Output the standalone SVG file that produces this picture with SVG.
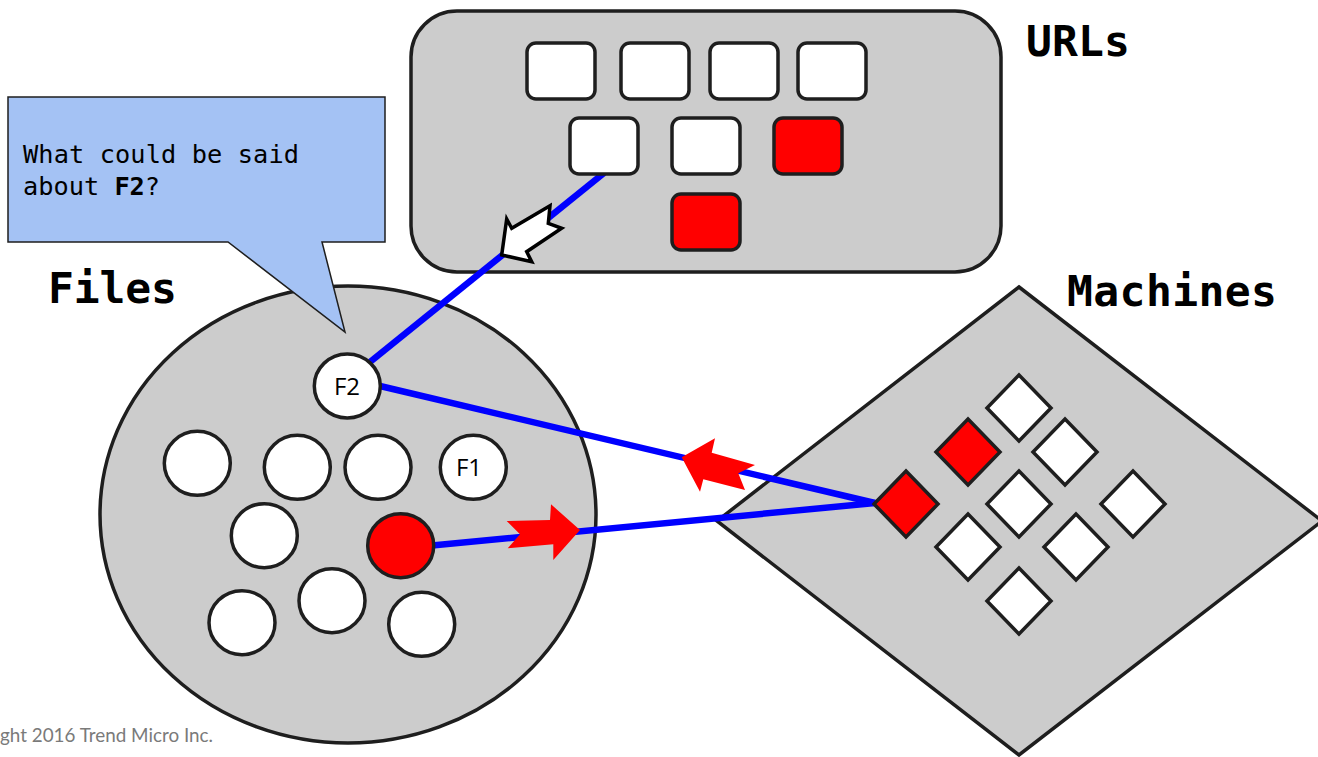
<svg xmlns="http://www.w3.org/2000/svg" width="1318" height="757" viewBox="0 0 1318 757">
<style>
.box{fill:#cccccc;stroke:#1e1e1e;stroke-width:3.5}
.w{fill:#ffffff;stroke:#1e1e1e;stroke-width:3.5}
.r{fill:#ff0000;stroke:#1e1e1e;stroke-width:3.5}
.title{font-family:"DejaVu Sans Mono","Liberation Mono",monospace;font-weight:bold;font-size:43px;fill:#000}
.lbl{font-family:"Open Sans","DejaVu Sans",sans-serif;font-size:24px;fill:#000;text-anchor:middle}
.call{font-family:"DejaVu Sans Mono","Liberation Mono",monospace;font-size:25.3px;fill:#000}
.link{stroke:#0000ff;stroke-width:6.5;fill:none}
.redarrow{fill:#ff0000;stroke:none}
</style>
<rect width="1318" height="757" fill="#ffffff"/>

<g id="files">
  <ellipse class="box" cx="348" cy="514.5" rx="248" ry="228.5"/>
  <text class="title" x="48" y="303" textLength="129">Files</text>
</g>
<g id="urls">
  <rect class="box" x="411" y="11" width="590" height="261" rx="46"/>
  <text class="title" x="1026" y="56" textLength="104">URLs</text>
</g>
<g id="machines">
  <polygon class="box" points="1019,287 1322,521 1019,755 717,521" stroke-width="3"/>
  <text class="title" x="1067" y="306" textLength="210">Machines</text>
</g>

<g id="callout">
  <polygon points="8,97 385,97 385,242 322,242 345,332 228,242 8,242" fill="#a4c2f4" stroke="#1e1e1e" stroke-width="1.5"/>
  <text class="call" x="23" y="163" textLength="276">What could be said</text>
  <text class="call" x="23" y="195">about <tspan font-weight="bold">F2</tspan>?</text>
</g>

<g id="connectors">
  <line class="link" x1="604" y1="173" x2="370" y2="362"/>
  <line class="link" x1="380" y1="386" x2="875" y2="503"/>
  <line class="link" x1="432" y1="545.5" x2="875" y2="503"/>
  <polygon points="501.7,255 506.7,219 511.7,228.3 550,205.7 548.3,223.3 561.7,228.3 526.7,251.7 531.7,261.7" fill="#ffffff" stroke="#000" stroke-width="3.5" stroke-linejoin="miter"/>
  <polygon class="redarrow" points="681.7,457.3 715,438.3 711.7,452.7 755,465 738.3,473.3 745,490 703.3,479.3 700,491.7"/>
  <polygon class="redarrow" points="580,530 551,504.3 550,520 506.7,521 520,534.3 507.7,548.3 553.3,544.3 553.3,560"/>
</g>

<g id="url-1"><rect class="w" x="527" y="43" width="68" height="56" rx="9"/></g>
<g id="url-2"><rect class="w" x="621" y="43" width="68" height="56" rx="9"/></g>
<g id="url-3"><rect class="w" x="710" y="43" width="68" height="56" rx="9"/></g>
<g id="url-4"><rect class="w" x="798" y="43" width="68" height="56" rx="9"/></g>
<g id="url-5"><rect class="w" x="570" y="118" width="68" height="56" rx="9"/></g>
<g id="url-6"><rect class="w" x="672" y="118" width="68" height="56" rx="9"/></g>
<g id="url-7"><rect class="r" x="774" y="118" width="68" height="56" rx="9"/></g>
<g id="url-8"><rect class="r" x="672" y="194" width="68" height="56" rx="9"/></g>

<g id="file-F2"><ellipse class="w" cx="347.3" cy="386" rx="33" ry="32"/><text class="lbl" x="347" y="395">F2</text></g>
<g id="file-2"><ellipse class="w" cx="197.3" cy="463.3" rx="33" ry="32"/></g>
<g id="file-3"><ellipse class="w" cx="297.3" cy="467.3" rx="33" ry="32"/></g>
<g id="file-4"><ellipse class="w" cx="378" cy="467.3" rx="33" ry="32"/></g>
<g id="file-F1"><ellipse class="w" cx="473.3" cy="467.3" rx="33" ry="32"/><text class="lbl" x="469" y="476">F1</text></g>
<g id="file-6"><ellipse class="w" cx="264.3" cy="535.7" rx="33" ry="32"/></g>
<g id="file-red"><ellipse class="r" cx="400.7" cy="545.7" rx="33" ry="32"/></g>
<g id="file-8"><ellipse class="w" cx="242" cy="622.7" rx="33" ry="32"/></g>
<g id="file-9"><ellipse class="w" cx="332" cy="600.7" rx="33" ry="32"/></g>
<g id="file-10"><ellipse class="w" cx="421.7" cy="624.3" rx="33" ry="32"/></g>

<g id="m-1"><polygon class="r" points="906,471 938,504 906,537 874,504"/></g>
<g id="m-2"><polygon class="r" points="968,419 1000,452 968,485 936,452"/></g>
<g id="m-3"><polygon class="w" points="1019,375 1051,408 1019,441 987,408"/></g>
<g id="m-4"><polygon class="w" points="1065,419 1097,452 1065,485 1033,452"/></g>
<g id="m-5"><polygon class="w" points="1019,471 1051,504 1019,537 987,504"/></g>
<g id="m-6"><polygon class="w" points="1133,471 1165,504 1133,537 1101,504"/></g>
<g id="m-7"><polygon class="w" points="968,514 1000,547 968,580 936,547"/></g>
<g id="m-8"><polygon class="w" points="1076,514 1108,547 1076,580 1044,547"/></g>
<g id="m-9"><polygon class="w" points="1019,568 1051,601 1019,634 987,601"/></g>

<text x="0" y="742" font-family="Lato,'Open Sans',sans-serif" font-size="18.5" fill="#7a7a7a" textLength="213" lengthAdjust="spacingAndGlyphs">ght 2016 Trend Micro Inc.</text>
</svg>
